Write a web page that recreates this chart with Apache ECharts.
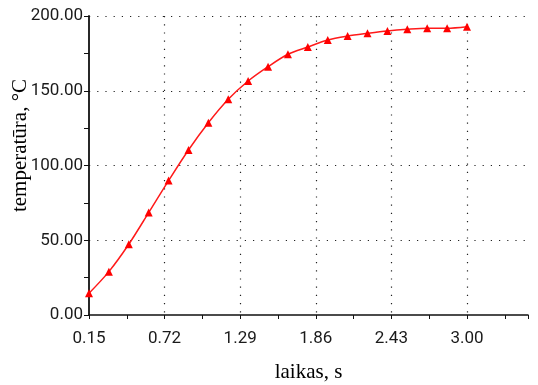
<!DOCTYPE html>
<html>
<head>
<meta charset="utf-8">
<script src="https://cdn.jsdelivr.net/npm/echarts@6/dist/echarts.min.js"></script>
<style>
  html, body { margin: 0; padding: 0; background: #fff; }
  #chart { width: 538px; height: 385px; }
</style>
</head>
<body>
<div id="chart"></div>
<script>
// time, s
var timeValues = [0.15, 0.30, 0.45, 0.60, 0.75, 0.90, 1.05, 1.20, 1.35, 1.50,
                  1.65, 1.80, 1.95, 2.10, 2.25, 2.40, 2.55, 2.70, 2.85, 3.00];
// temperature, °C
var tempValues = [14.5, 29.0, 47.3, 68.5, 89.9, 110.4, 128.6, 144.3, 156.5, 166.1,
                  174.4, 179.3, 184.0, 186.6, 188.4, 190.0, 191.1, 191.8, 191.8, 192.8];

var xMin = 0.15, xMax = 3.46, xStep = 0.57;
var yMin = 0, yMax = 200, yStep = 50;

var points = timeValues.map(function (t, i) { return [t, tempValues[i]]; });

var chart = echarts.init(document.getElementById("chart"));

var gridLine = { show: true, lineStyle: { color: "#222", width: 1.2, type: [1.2, 7] } };

chart.setOption({
  animation: false,
  grid: { left: 89, right: 10, top: 16, bottom: 70, outerBoundsMode: "none", containLabel: false },
  xAxis: {
    type: "value",
    min: xMin,
    max: xMax,
    interval: xStep,
    name: "laikas, s",
    nameLocation: "middle",
    nameGap: 47,
    nameTextStyle: { fontFamily: "Liberation Serif", fontSize: 21, color: "#000" },
    axisLine: { onZero: false, lineStyle: { color: "#111", width: 1.5 } },
    axisTick: { length: 4, lineStyle: { color: "#111" } },
    minorTick: { show: true, splitNumber: 2, length: 4, lineStyle: { color: "#111" } },
    axisLabel: {
      showMaxLabel: false,
      margin: 15,
      fontFamily: "Roboto",
      fontSize: 17,
      color: "#1a1a1a",
      formatter: function (v) { return v.toFixed(2); }
    },
    splitLine: Object.assign({ showMaxLine: false, showMinLine: false }, gridLine)
  },
  yAxis: {
    type: "value",
    min: yMin,
    max: yMax,
    interval: yStep,
    name: "temperatūra, °C",
    nameLocation: "middle",
    nameGap: 58,
    nameMoveOverlap: false,
    nameTextStyle: { fontFamily: "Liberation Serif", fontSize: 21, color: "#000", padding: [0, 0, 0, 40] },
    axisLine: { show: true, onZero: false, lineStyle: { color: "#111", width: 1.8 } },
    axisTick: { show: true, length: 5, lineStyle: { color: "#111" } },
    minorTick: { show: true, splitNumber: 2, length: 5, lineStyle: { color: "#111" } },
    axisLabel: {
      margin: 6,
      fontFamily: "Roboto",
      fontSize: 17,
      color: "#1a1a1a",
      formatter: function (v) { return v.toFixed(2); }
    },
    splitLine: Object.assign({ showMinLine: false }, gridLine)
  },
  series: [
    {
      type: "line",
      data: points,
      smooth: 0.3,
      symbol: "triangle",
      symbolSize: 8,
      lineStyle: { color: "#ff1a1a", width: 1.5 },
      itemStyle: { color: "#ff0000" }
    }
  ]
});
</script>
</body>
</html>
